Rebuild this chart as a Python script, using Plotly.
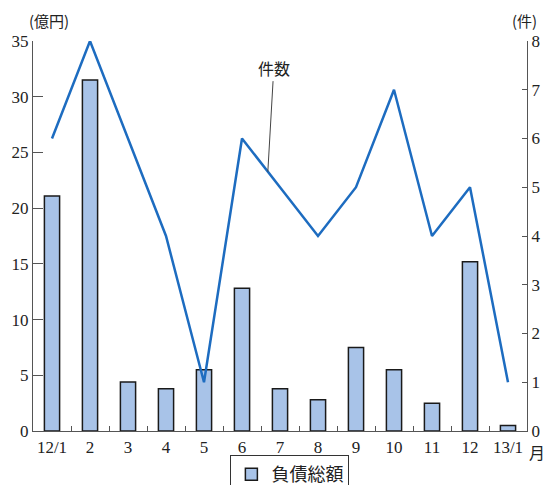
import plotly.graph_objects as go

# Monthly data: total liabilities (100 million yen) and number of cases
months = ["12/1", "2", "3", "4", "5", "6", "7", "8", "9", "10", "11", "12", "13/1"]
debt_total = [21.1, 31.5, 4.4, 3.8, 5.5, 12.8, 3.8, 2.8, 7.5, 5.5, 2.5, 15.2, 0.5]
case_count = [6, 8, 6, 4, 1, 6, 5, 4, 5, 7, 4, 5, 1]

left_ticks = [0, 5, 10, 15, 20, 25, 30, 35]
right_ticks = [0, 1, 2, 3, 4, 5, 6, 7, 8]

SERIF = "Liberation Serif, Times New Roman, serif"
JP = "Noto Sans CJK JP, sans-serif"
AXIS = "#555555"

fig = go.Figure()

fig.add_trace(go.Bar(
    x=months, y=debt_total, name="負債総額",
    width=0.4,
    marker=dict(color="#a8c3e8", line=dict(color="#1a1a1a", width=1.5)),
    yaxis="y",
))

fig.add_trace(go.Scatter(
    x=months, y=case_count, name="件数", mode="lines",
    line=dict(color="#1d6cc0", width=2.5),
    yaxis="y2", showlegend=False,
))

# Leader label pointing to the line between June and July
frac = 0.68
lead_x = 5 + frac
lead_y = case_count[5] + (case_count[6] - case_count[5]) * frac
fig.add_annotation(
    x=lead_x, y=lead_y, xref="x", yref="y2",
    text="件数", showarrow=True, arrowhead=0, arrowwidth=1,
    arrowcolor="#444444", ax=6, ay=-104,
    font=dict(family=JP, size=16, color="#222222"),
)

fig.add_annotation(
    x=0, y=1.02, xref="paper", yref="paper", xanchor="right", yanchor="bottom",
    xshift=38, text="(億円)", showarrow=False,
    font=dict(family=JP, size=15, color="#222222"),
)
fig.add_annotation(
    x=1, y=1.02, xref="paper", yref="paper", xanchor="right", yanchor="bottom",
    xshift=12, text="(件)", showarrow=False,
    font=dict(family=JP, size=15, color="#222222"),
)
# Month unit after the last category label
fig.add_annotation(
    x=1, y=0, xref="paper", yref="paper", xanchor="left", yanchor="top",
    xshift=0, yshift=-7, text="月", showarrow=False,
    font=dict(family=JP, size=16, color="#222222"),
)

fig.update_layout(
    width=547, height=485,
    margin=dict(l=33, r=20, t=41, b=54, autoexpand=False),
    paper_bgcolor="white", plot_bgcolor="white",
    showlegend=True,
    legend=dict(
        orientation="h", x=0.52, xanchor="center",
        yref="container", y=0.062, yanchor="top",
        bordercolor="#333333", borderwidth=1,
        font=dict(family=JP, size=18, color="#222222"),
    ),
    xaxis=dict(
        type="category", showline=True, linecolor=AXIS, linewidth=1.2,
        ticks="inside", tickson="boundaries", ticklen=5, tickcolor=AXIS,
        tickangle=0, automargin=False,
        tickfont=dict(family=SERIF, size=17, color="#222222"),
        showgrid=False, zeroline=False,
    ),
    yaxis=dict(
        range=[0, 35], tickvals=left_ticks, showline=True, linecolor=AXIS,
        linewidth=1.2, ticks="inside", ticklen=10, tickcolor=AXIS,
        automargin=False,
        tickfont=dict(family=SERIF, size=17, color="#222222"),
        showgrid=False, zeroline=False,
    ),
    yaxis2=dict(
        range=[0, 8], tickvals=right_ticks, overlaying="y", side="right",
        showline=True, linecolor=AXIS, linewidth=1.2, ticks="inside",
        ticklen=5, tickcolor=AXIS, automargin=False,
        tickfont=dict(family=SERIF, size=17, color="#222222"),
        showgrid=False, zeroline=False,
    ),
)

fig.write_html("out.html")
